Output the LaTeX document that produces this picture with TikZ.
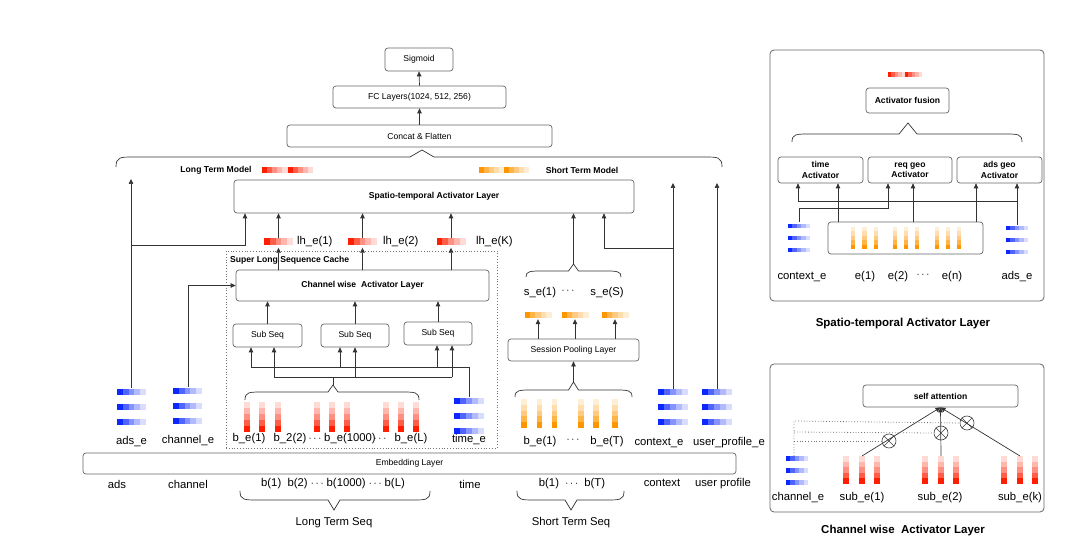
\documentclass[tikz,border=0pt]{standalone}
\usepackage{fontspec}
\setmainfont{Liberation Sans}
\usetikzlibrary{arrows.meta,calc}
\definecolor{cblue}{RGB}{10,40,255}
\definecolor{cred}{RGB}{255,30,0}
\definecolor{corange}{RGB}{255,150,0}
\newcommand{\hgrad}[5]{%
  \foreach \p [count=\i from 0] in {100,72,50,32,16}{%
    \fill[#5!\p] ({#1+\i*(#3)/5},{#2-(#4)/2}) rectangle ({#1+(\i+1)*(#3)/5+0.4},{#2+(#4)/2});}}
\newcommand{\dgrad}[5]{\hgrad{#1}{#2}{(#3)/2}{#4}{#5}\hgrad{#1+(#3)/2}{#2}{(#3)/2}{#4}{#5}}
\newcommand{\vgrad}[5]{%
  \foreach \p [count=\i from 0] in {16,32,50,72,100}{%
    \fill[#5!\p] ({#1-(#3)/2},{#2+\i*(#4)/5}) rectangle ({#1+(#3)/2},{#2+(\i+1)*(#4)/5+0.4});}}
\newcommand{\bstack}[5]{\hgrad{#1}{#2}{#4}{#5}{cblue}\hgrad{#1}{#2+#3}{#4}{#5}{cblue}\hgrad{#1}{#2+2*#3}{#4}{#5}{cblue}}
\newcommand{\brc}[7]{%
  \draw[ln] (#1,#3) .. controls (#1,#4) and ({#1+4},#4) .. ({#1+18},#4) -- ({#5-#7},#4) -- (#5,#6) -- ({#5+#7},#4) -- ({#2-18},#4) .. controls ({#2-4},#4) and (#2,#4) .. (#2,#3);}
\tikzset{
  box/.style={draw=black!60, line width=0.7pt, rounded corners=3pt, inner sep=1pt, font=\fontsize{8.6}{10}\selectfont},
  bbox/.style={box, font=\fontsize{8.6}{10.5}\selectfont\bfseries},
  lbl/.style={inner sep=0pt, font=\fontsize{11.3}{13}\selectfont},
  tlbl/.style={inner sep=0pt, font=\fontsize{8.6}{10}\selectfont\bfseries},
  ttl/.style={inner sep=0pt, font=\fontsize{11.5}{13}\selectfont\bfseries},
  ln/.style={line width=0.7pt, draw=black!80},
  arr/.style={ln, -{Triangle[length=5pt,width=4.5pt]}},
  dotln/.style={line width=0.8pt, draw=black!55, dotted},
  panel/.style={draw=black!60, line width=0.8pt, rounded corners=4pt, inner sep=0pt},
}
\begin{document}
\begin{tikzpicture}[x=1pt,y=-1pt]
\useasboundingbox (0,0) rectangle (1080,540);
\fill[white] (0,0) rectangle (1080,540);

% ---------- top stack
\node[box, minimum width=68, minimum height=23] (sig) at (419,59.5) {Sigmoid};
\node[box, minimum width=173, minimum height=22] (fc) at (419.5,97) {FC Layers(1024, 512, 256)};
\node[box, minimum width=265, minimum height=22] (cat) at (419.5,136) {Concat \& Flatten};
\draw[arr] (cat.north) -- (fc.south);
\draw[arr] (fc.north) -- (sig.south);
\brc{116}{722}{167}{157}{422}{150}{12}

\node[tlbl] (ltm) at (216,170) {Long Term Model};
\dgrad{262}{170}{51}{6}{cred}
\dgrad{479}{170}{50}{6}{corange}
\node[tlbl] (stm) at (582,170) {Short Term Model};
\node[bbox, minimum width=400, minimum height=33] (st) at (434,196.5) {Spatio-temporal Activator Layer};

% ---------- long term part
\node[dotln, draw, minimum width=271, minimum height=197] (cache) at (361.5,349.5) {};
\node[tlbl, anchor=west] (cachelbl) at (230,260) {Super Long Sequence Cache};
\node[bbox, minimum width=253, minimum height=31] (cw) at (362.5,285.5) {Channel wise\ \ Activator Layer};
\node[box, minimum width=69, minimum height=23] (ss1) at (267.5,335.5) {Sub Seq};
\node[box, minimum width=68, minimum height=23] (ss2) at (355,335.5) {Sub Seq};
\node[box, minimum width=68, minimum height=23] (ss3) at (438,333.5) {Sub Seq};
\foreach \s in {ss1,ss2,ss3} \draw[arr] (\s.north) -- (\s.north |- cw.south);

% lh bars
\node[inner sep=0, minimum width=29, minimum height=7] (lh1) at (278.5,242) {};
\node[inner sep=0, minimum width=29, minimum height=7] (lh2) at (362.5,242) {};
\node[inner sep=0, minimum width=29, minimum height=7] (lh3) at (451,242) {};
\hgrad{264}{242}{29}{7}{cred}
\hgrad{348}{242}{29}{7}{cred}
\hgrad{436.5}{242}{29}{7}{cred}
\node[lbl, anchor=west] (lh1l) at (297,242) {lh\_e(1)};
\node[lbl, anchor=west] (lh2l) at (383,242) {lh\_e(2)};
\node[lbl, anchor=west] (lh3l) at (476,242) {lh\_e(K)};
\foreach \b in {lh1,lh2,lh3}{
  \draw[arr] (cw.north -| \b) -- ([yshift=-2pt]\b.south);
  \draw[arr] (\b.north) -- (\b.north |- st.south);
}

% b_e bars
\foreach \x in {247,262,278,317,332,347,386,401,416} \vgrad{\x}{402}{6}{30}{cred};
\node[lbl] (be1) at (249,439) {b\_e(1)};
\node[lbl] (be2) at (290,439) {b\_2(2)};
\node[lbl] (bd1) at (315,439) {$\cdots$};
\node[lbl] (be3) at (350,439) {b\_e(1000)};
\node[lbl] (bd2) at (380,439) {$\cdots$};
\node[lbl] (be4) at (411,439) {b\_e(L)};
\brc{245}{419}{400}{392}{333}{385}{5}
\coordinate (bp) at (333,385);
\coordinate (bl1) at (274,377);
\coordinate (bl2) at (355,377);
\coordinate (bl3) at (452,377);
\draw[ln] (bl1) -- (bl3);
\draw[ln] (bp) -- (bp |- bl1);
\draw[arr] (bl1) -- (bl1 |- ss1.south);
\draw[arr] (bl2) -- (bl2 |- ss2.south);
\draw[arr] (bl3) -- (bl3 |- ss3.south);

% time_e
\bstack{454}{401}{15}{30}{6}
\node[lbl] (timee) at (469,440) {time\_e};
\coordinate (te) at (469,397);
\coordinate (tlr) at (469,367);
\coordinate (tl1) at (251,367);
\coordinate (tl2) at (340,367);
\coordinate (tl3) at (437,367);
\draw[ln] (te) -- (tlr) -- (tl1);
\draw[arr] (tl1) -- (tl1 |- ss1.south);
\draw[arr] (tl2) -- (tl2 |- ss2.south);
\draw[arr] (tl3) -- (tl3 |- ss3.south);

% ads_e
\bstack{117}{392}{15}{29}{6}
\node[lbl] (adse) at (131.5,442) {ads\_e};
\coordinate (adtop) at (131,388);
\coordinate (adup) at (131,179);
\draw[arr] (adtop) -- (adup);
\coordinate (adb) at (131,245);
\coordinate (adb2) at (245,245);
\draw[arr] (adb) -- (adb2) -- (adb2 |- st.south);

% channel_e
\bstack{173}{391}{15}{29}{6}
\node[lbl] (chane) at (188,441) {channel\_e};
\coordinate (chtop) at (188,387);
\draw[arr] (chtop) |- (cw.west);

% ---------- short term part
\node[box, minimum width=131, minimum height=22] (sp) at (573.5,350) {Session Pooling Layer};
\node[inner sep=0, minimum width=27, minimum height=6] (se1) at (538,315) {};
\node[inner sep=0, minimum width=27, minimum height=6] (se2) at (575,315) {};
\node[inner sep=0, minimum width=27, minimum height=6] (se3) at (615,315) {};
\hgrad{524.5}{315}{27}{6}{corange}
\hgrad{561.5}{315}{27}{6}{corange}
\hgrad{601.5}{315}{27}{6}{corange}
\foreach \b in {se1,se2,se3} \draw[arr] (sp.north -| \b) -- ([yshift=-1pt]\b.south);
\node[lbl] (sl1) at (540,293) {s\_e(1)};
\node[lbl] (sld) at (568,291) {$\cdots$};
\node[lbl] (sl2) at (607,293) {s\_e(S)};
\brc{526}{621}{277}{271}{573.5}{264}{5}
\coordinate (sbp) at (573.5,264);
\draw[arr] (sbp) -- (sbp |- st.south);
\brc{515}{632}{397}{390}{573.5}{382}{5}
\coordinate (sbp2) at (573.5,382);
\draw[arr] (sbp2) -- (sp.south);
\foreach \x in {524,539.5,554.5,581,596,615} \vgrad{\x}{399}{5.5}{29}{corange};
\node[lbl] (sb1) at (540,442) {b\_e(1)};
\node[lbl] (sbd) at (573,440) {$\cdots$};
\node[lbl] (sb2) at (607,442) {b\_e(T)};

% context / user profile
\bstack{658}{392}{15}{30}{6}
\bstack{702}{392}{15}{30}{6}
\node[lbl] (ctxe) at (659,443) {context\_e};
\node[lbl] (upe) at (729,443) {user\_profile\_e};
\coordinate (cx) at (673,389);
\coordinate (cxup) at (673,183);
\draw[arr] (cx) -- (cxup);
\coordinate (cxb) at (673,248);
\coordinate (cxb2) at (604,248);
\draw[arr] (cxb) -- (cxb2) -- (cxb2 |- st.south);
\coordinate (up) at (717,389);
\coordinate (upup) at (717,183);
\draw[arr] (up) -- (upup);

% ---------- embedding & raw inputs
\node[box, minimum width=653, minimum height=21] (emb) at (409.5,463.5) {Embedding Layer};
\node[lbl] (in1) at (117,484) {ads};
\node[lbl] (in2) at (188,484) {channel};
\node[lbl] (in3) at (333,484) {b(1)\ \ b(2) $\cdots$ b(1000) $\cdots$ b(L)};
\node[lbl] (in4) at (470,484) {time};
\node[lbl] (in5) at (572,484) {b(1)\ \ $\cdots$\ \ b(T)};
\node[lbl] (in6) at (662,483) {context};
\node[lbl] (in7) at (723,484) {user profile};
\brc{240}{430}{491}{500}{334}{510}{6}
\brc{517}{624}{491}{500}{571}{510}{6}
\node[lbl] (lts) at (334,523) {Long Term Seq};
\node[lbl] (sts) at (571,523) {Short Term Seq};

% ---------- right panel 1
\node[panel, minimum width=274, minimum height=251] (p1) at (907,175.5) {};
\dgrad{888}{75}{34}{5}{cred}
\node[bbox, minimum width=83, minimum height=25] (af) at (907.5,100.5) {Activator fusion};
\brc{792}{1022}{142}{134}{908}{123}{9}
\node[bbox, align=center, minimum width=85, minimum height=26] (ta) at (820.5,170) {time\\Activator};
\node[bbox, align=center, minimum width=84, minimum height=26] (ra) at (910,170) {req geo\\Activator};
\node[bbox, align=center, minimum width=85, minimum height=26] (aa) at (999.5,170) {ads geo\\Activator};
\node[box, minimum width=155, minimum height=32] (eb) at (905.5,238) {};
\foreach \x in {853,864.5,876,895,906,917,937,948,959} \vgrad{\x}{227}{4.5}{22}{corange};
\bstack{788}{226}{12}{22}{4.5}
\bstack{1006}{228}{12}{22}{4.5}
\coordinate (pa) at (1017,225);
\draw[arr] (pa) -- (pa |- aa.south);
\coordinate (pab) at (1017,201);
\coordinate (pab2) at (798,201);
\draw[arr] (pab) -- (pab2) -- (pab2 |- ta.south);
\coordinate (pc) at (799,222);
\coordinate (pc1) at (799,208);
\coordinate (pc2) at (888,208);
\draw[arr] (pc) -- (pc1) -- (pc2) -- (pc2 |- ra.south);
\coordinate (e1) at (838,222);
\coordinate (e2) at (913,222);
\coordinate (e3) at (976,222);
\draw[arr] (e1) -- (e1 |- ta.south);
\draw[arr] (e2) -- (e2 |- ra.south);
\draw[arr] (e3) -- (e3 |- aa.south);
\node[lbl] (p1l1) at (802,277) {context\_e};
\node[lbl] (p1l2) at (865,277) {e(1)};
\node[lbl] (p1l3) at (898,277) {e(2)};
\node[lbl] (p1l4) at (923,275) {$\cdots$};
\node[lbl] (p1l5) at (952,277) {e(n)};
\node[lbl] (p1l6) at (1017,277) {ads\_e};
\node[ttl] (p1t) at (903,324) {Spatio-temporal Activator Layer};

% ---------- right panel 2
\node[panel, minimum width=274, minimum height=148] (p2) at (907,438) {};
\node[bbox, minimum width=155, minimum height=22] (sa) at (940.5,396) {self attention};
\bstack{786}{458}{12}{22}{5}
\foreach \x in {846,862,877,925,941,956,1004,1020,1035} \vgrad{\x}{456}{6}{28}{cred};
\node[draw=black!75, line width=0.6pt, circle, minimum size=14, inner sep=0] (c1) at (889,441) {};
\node[draw=black!75, line width=0.6pt, circle, minimum size=14, inner sep=0] (c2) at (941,433) {};
\node[draw=black!75, line width=0.6pt, circle, minimum size=14, inner sep=0] (c3) at (967,423) {};
\foreach \c in {c1,c2,c3}{
  \draw[line width=0.6pt, black!75] (\c.north west) -- (\c.south east);
  \draw[line width=0.6pt, black!75] (\c.north east) -- (\c.south west);
}
\coordinate (s1t) at (862,456);
\coordinate (s2t) at (941,456);
\coordinate (s3t) at (1020,456);
\draw[arr] (s1t) -- (sa.south);
\draw[arr] (s2t) -- (sa.south);
\draw[arr] (s3t) -- (sa.south);
\coordinate (dv0) at (794,456);
\coordinate (dv1) at (794,421);
\draw[dotln] (dv0) -- (dv1) -- (c3.west);
\draw[dotln] (794,432) -- (c2.west);
\draw[dotln] (794,441) -- (c1.west);
\node[lbl] (p2l1) at (798,498) {channel\_e};
\node[lbl] (p2l2) at (862,498) {sub\_e(1)};
\node[lbl] (p2l3) at (940,498) {sub\_e(2)};
\node[lbl] (p2l4) at (1020,498) {sub\_e(k)};
\node[ttl] (p2t) at (903,531) {Channel wise\ \ Activator Layer};
\end{tikzpicture}
\end{document}
